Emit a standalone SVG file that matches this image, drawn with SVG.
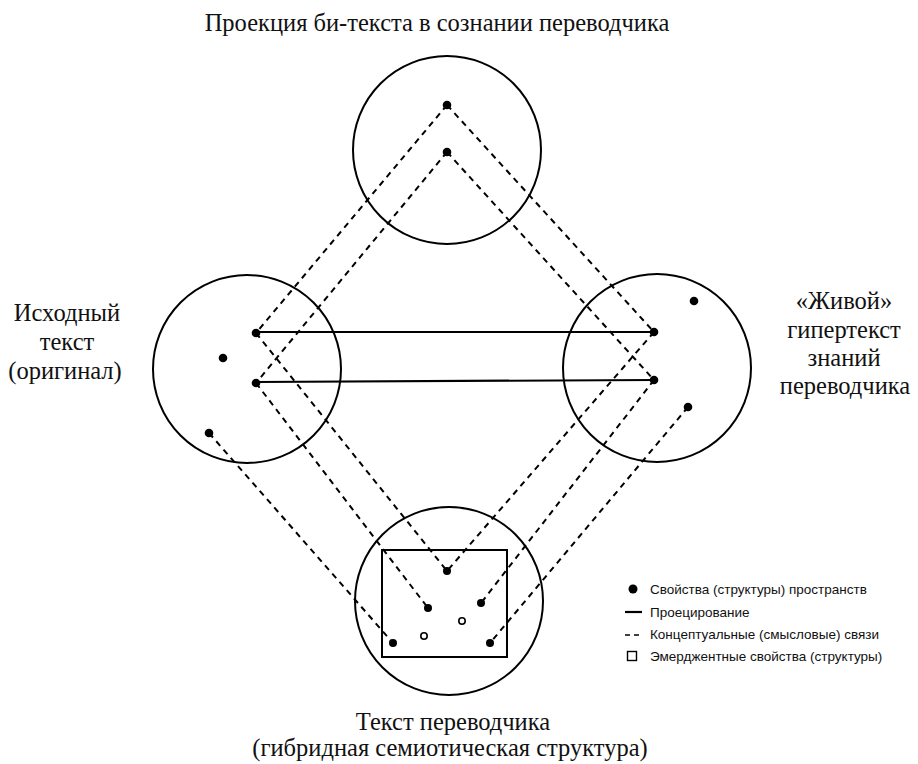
<svg xmlns="http://www.w3.org/2000/svg" width="918" height="764" viewBox="0 0 918 764">
<style>
.c{fill:none;stroke:#000;stroke-width:2}
.d{stroke:#000;stroke-width:2;stroke-dasharray:6 5;fill:none}
.s{stroke:#000;stroke-width:2.2;fill:none}
.dot{fill:#000}
.ho{fill:#fff;stroke:#000;stroke-width:1.6}
.t{font-family:"Liberation Serif","Times New Roman",serif;font-size:24.5px;fill:#111;text-anchor:middle}
.l{font-family:"Liberation Sans",Arial,sans-serif;font-size:13.5px;fill:#111}
</style>
<rect width="918" height="764" fill="#fff"/>
<text class="t" x="437" y="31">Проекция би-текста в сознании переводчика</text>
<g id="connectors">
<line class="d" x1="447" y1="105" x2="256" y2="333"/>
<line class="d" x1="447" y1="105" x2="654" y2="332"/>
<line class="d" x1="447" y1="152" x2="256" y2="383"/>
<line class="d" x1="447" y1="152" x2="654" y2="380"/>
<line class="d" x1="256" y1="333" x2="447" y2="571"/>
<line class="d" x1="654" y1="332" x2="447" y2="571"/>
<line class="d" x1="256" y1="383" x2="428" y2="608"/>
<line class="d" x1="654" y1="380" x2="481" y2="603"/>
<line class="d" x1="209" y1="433" x2="393" y2="643"/>
<line class="d" x1="688" y1="407" x2="490" y2="643"/>
<line class="s" x1="256" y1="332" x2="654" y2="332"/>
<line class="s" x1="256" y1="382" x2="654" y2="380"/>
</g>
<g id="top">
<circle class="c" cx="447" cy="150" r="94"/>
<circle class="dot" cx="447" cy="105" r="4.3"/>
<circle class="dot" cx="447" cy="152" r="4.3"/>
</g>
<g id="left">
<circle class="c" cx="247" cy="369" r="94"/>
<circle class="dot" cx="256" cy="333" r="4.3"/>
<circle class="dot" cx="223" cy="358" r="4.3"/>
<circle class="dot" cx="256" cy="383" r="4.3"/>
<circle class="dot" cx="209" cy="433" r="4.3"/>
<text class="t" x="67" y="321">Исходный</text>
<text class="t" x="67" y="350">текст</text>
<text class="t" x="65" y="379">(оригинал)</text>
</g>
<g id="right">
<circle class="c" cx="657" cy="368" r="94"/>
<circle class="dot" cx="654" cy="332" r="4.3"/>
<circle class="dot" cx="654" cy="380" r="4.3"/>
<circle class="dot" cx="694" cy="301" r="4.3"/>
<circle class="dot" cx="688" cy="407" r="4.3"/>
<text class="t" x="844" y="309">«Живой»</text>
<text class="t" x="844" y="338">гипертекст</text>
<text class="t" x="844" y="366">знаний</text>
<text class="t" x="845" y="394">переводчика</text>
</g>
<g id="bottom">
<circle class="c" cx="449" cy="601" r="94"/>
<rect class="c" x="382" y="550" width="125" height="107"/>
<circle class="dot" cx="447" cy="571" r="4"/>
<circle class="dot" cx="428" cy="608" r="4"/>
<circle class="dot" cx="481" cy="603" r="4"/>
<circle class="dot" cx="393" cy="643" r="4"/>
<circle class="dot" cx="490" cy="643" r="4"/>
<circle class="ho" cx="424" cy="636" r="3.2"/>
<circle class="ho" cx="462" cy="621" r="3.2"/>
<text class="t" x="453" y="730">Текст переводчика</text>
<text class="t" x="450" y="756">(гибридная семиотическая структура)</text>
</g>
<g id="legend">
<circle class="dot" cx="633" cy="589" r="4.5"/>
<text class="l" x="650" y="594">Свойства (структуры) пространств</text>
<line x1="625" y1="612" x2="642" y2="612" stroke="#000" stroke-width="2.2"/>
<text class="l" x="650" y="617">Проецирование</text>
<line x1="625" y1="635" x2="642" y2="635" stroke="#000" stroke-width="1.5" stroke-dasharray="5 4"/>
<text class="l" x="650" y="639">Концептуальные (смысловые) связи</text>
<rect x="627.5" y="651.5" width="9" height="9" fill="#fff" stroke="#000" stroke-width="1.4"/>
<text class="l" x="650" y="661">Эмерджентные свойства (структуры)</text>
</g>
</svg>
